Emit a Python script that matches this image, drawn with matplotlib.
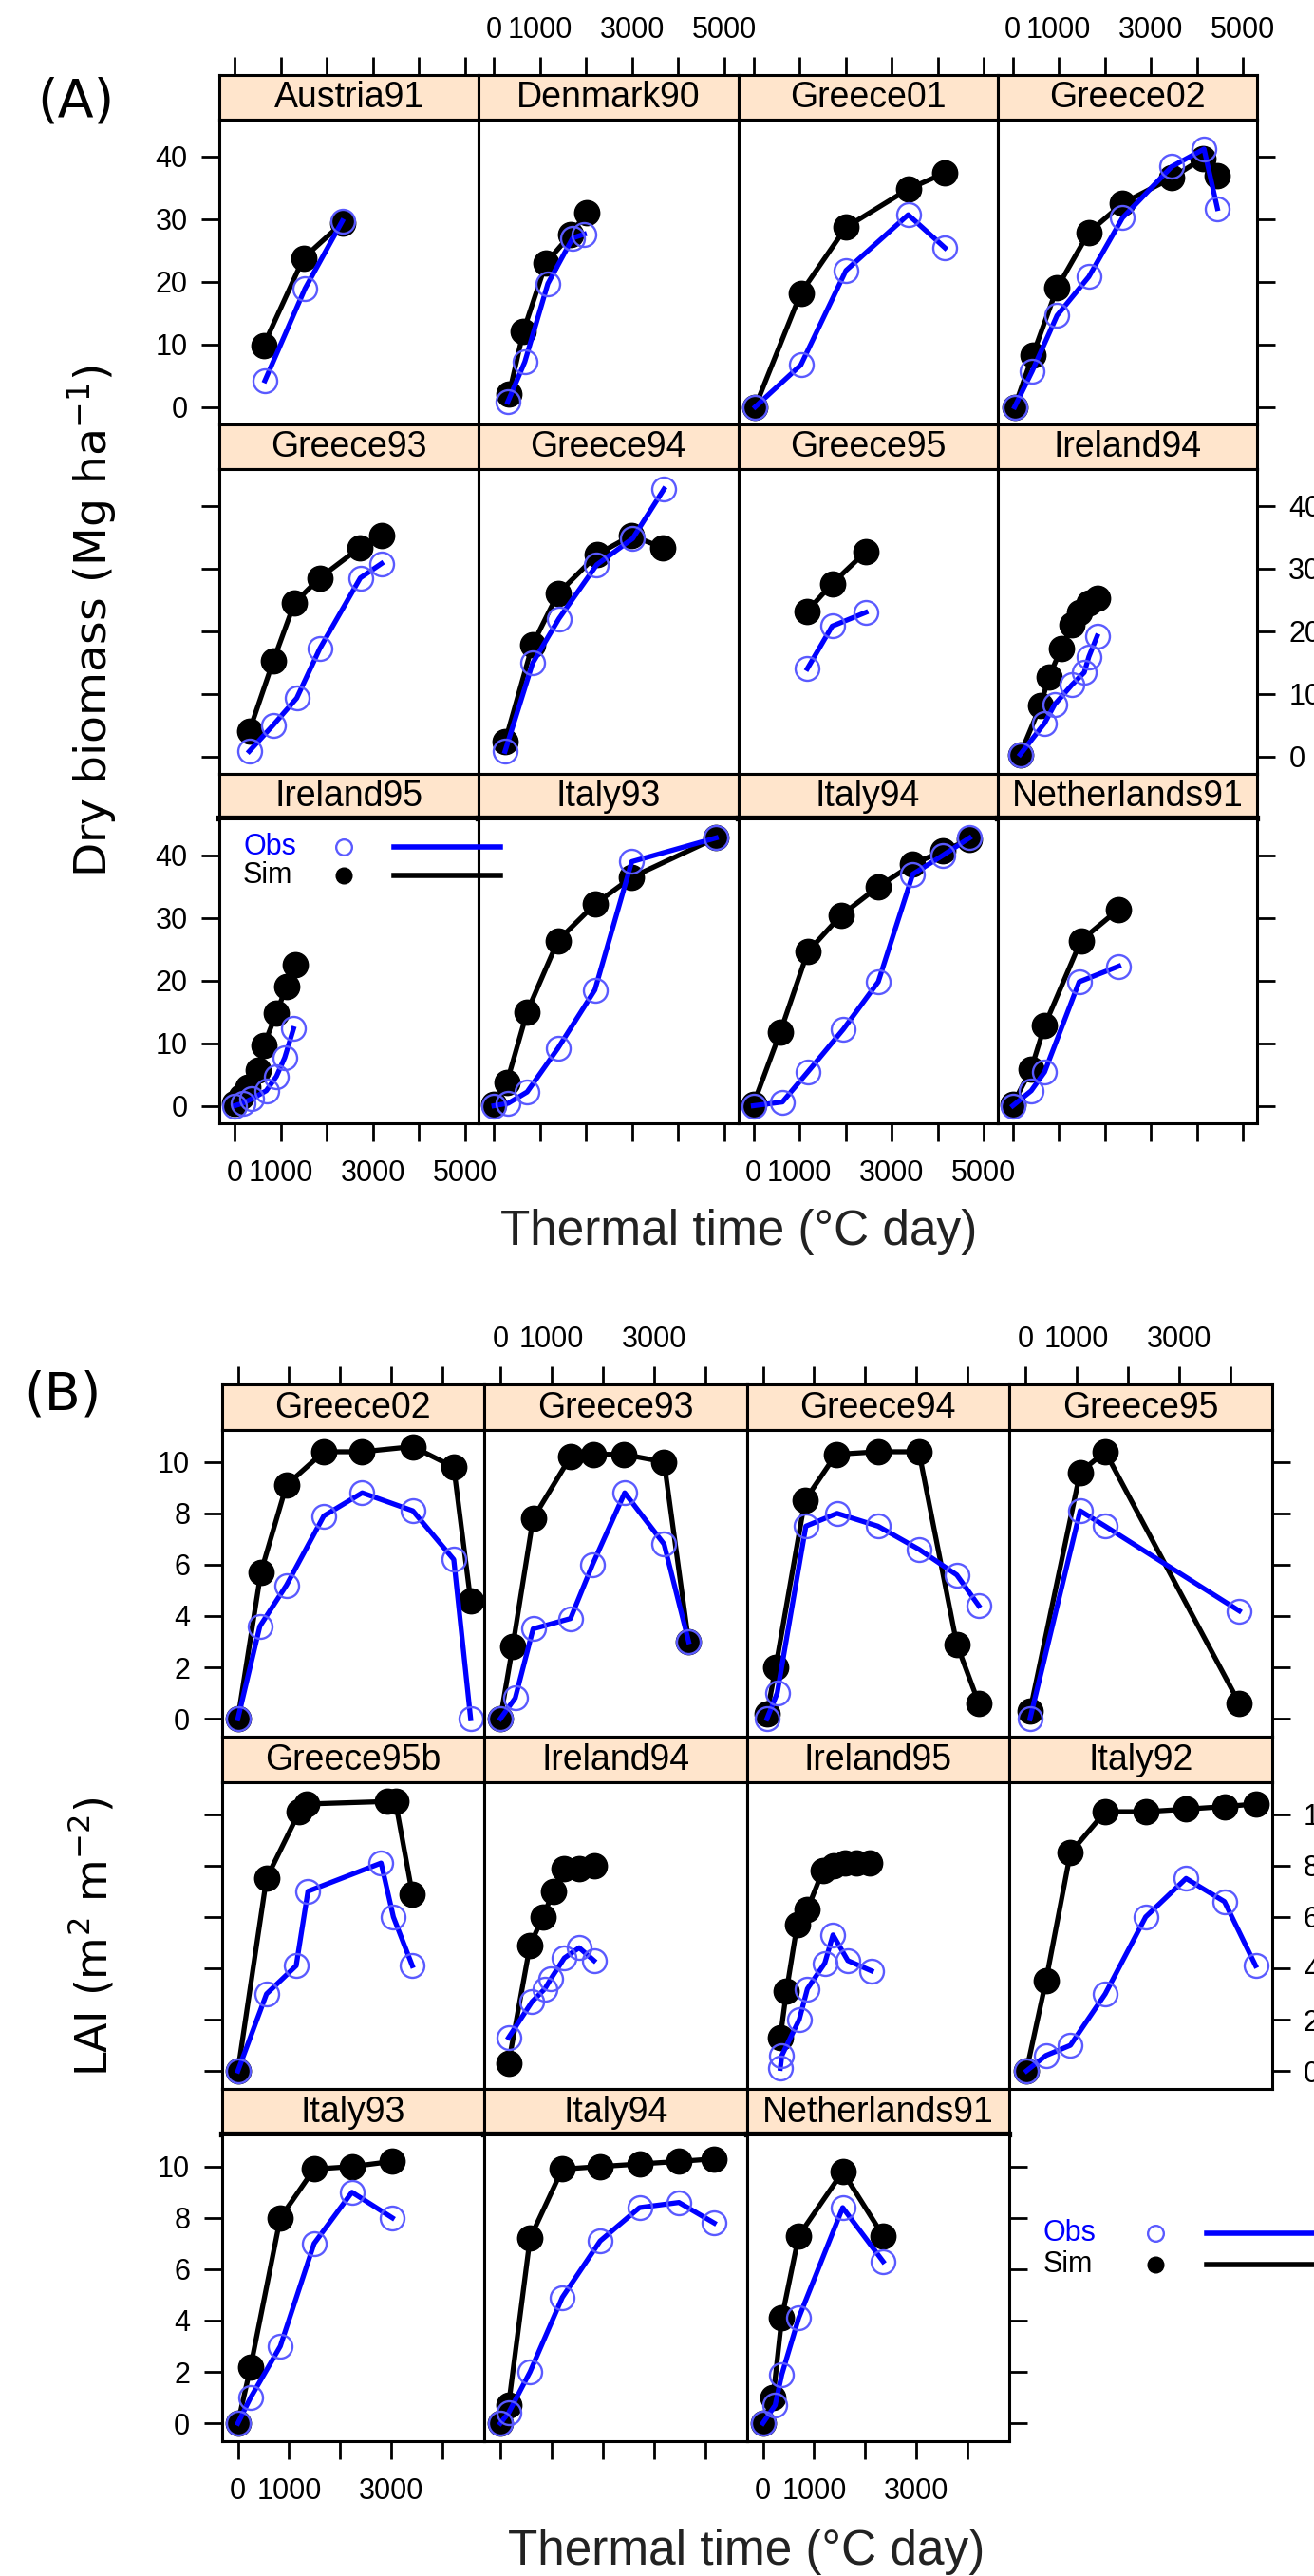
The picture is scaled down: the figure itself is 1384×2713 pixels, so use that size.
import matplotlib
matplotlib.use("Agg")
import matplotlib.pyplot as plt
from matplotlib.lines import Line2D

plt.rcParams['font.family'] = ['Liberation Sans', 'DejaVu Sans']

# ---------------- (A) dry biomass (Mg/ha) vs thermal time ----------------
biomass_sites = ['Austria91', 'Denmark90', 'Greece01', 'Greece02',
                 'Greece93', 'Greece94', 'Greece95', 'Ireland94',
                 'Ireland95', 'Italy93', 'Italy94', 'Netherlands91']
biomass_sim_x = [
    [630, 1500, 2340],
    [330, 640, 1130, 1670, 2010],
    [40, 1030, 2010, 3360, 4160],
    [40, 430, 960, 1650, 2380, 3450, 4120, 4440],
    [320, 840, 1300, 1850, 2710, 3190],
    [240, 840, 1390, 2250, 2990, 3660],
    [1170, 1710, 2440],
    [160, 600, 780, 1050, 1280, 1450, 1650, 1830],
    [0, 140, 280, 510, 640, 910, 1130, 1310],
    [0, 280, 720, 1390, 2190, 2990, 4820],
    [0, 580, 1180, 1900, 2710, 3460, 4110, 4690],
    [0, 400, 690, 1480, 2300],
]
biomass_sim_y = [
    [9.8, 23.8, 29.4],
    [2.1, 12.1, 23.0, 27.6, 31.0],
    [0.0, 18.2, 28.7, 34.8, 37.4],
    [0.0, 8.2, 19.0, 27.9, 32.5, 36.6, 39.7, 36.9],
    [4.0, 15.2, 24.5, 28.5, 33.3, 35.3],
    [2.3, 17.9, 26.0, 32.3, 35.3, 33.3],
    [23.2, 27.6, 32.7],
    [0.3, 8.1, 12.6, 17.2, 21.0, 23.0, 24.5, 25.3],
    [0.4, 1.5, 2.9, 5.7, 9.7, 14.8, 19.1, 22.6],
    [0.2, 3.7, 15.0, 26.4, 32.2, 36.5, 42.8],
    [0.2, 11.7, 24.6, 30.4, 35.0, 38.6, 40.7, 42.5],
    [0.2, 5.9, 12.8, 26.4, 31.4],
]
biomass_obs_x = [
    [660, 1530, 2340],
    [300, 670, 1170, 1710, 1960],
    [40, 1030, 2010, 3360, 4160],
    [40, 420, 960, 1650, 2380, 3450, 4150, 4440],
    [320, 840, 1350, 1850, 2730, 3190],
    [240, 840, 1410, 2230, 3010, 3690],
    [1170, 1710, 2440],
    [160, 690, 910, 1280, 1550, 1650, 1830],
    [0, 180, 370, 690, 910, 1090, 1280],
    [0, 310, 720, 1390, 2190, 2990, 4820],
    [0, 630, 1180, 1950, 2710, 3460, 4110, 4690],
    [0, 400, 690, 1440, 2300],
]
biomass_obs_y = [
    [4.2, 18.9, 29.7],
    [0.8, 7.2, 19.7, 27.0, 27.6],
    [0.0, 6.7, 21.8, 30.7, 25.4],
    [0.0, 5.7, 14.6, 20.8, 30.2, 38.4, 41.2, 31.7],
    [0.8, 5.0, 9.3, 17.2, 28.5, 30.8],
    [0.8, 14.9, 22.0, 30.6, 34.8, 42.7],
    [14.0, 20.8, 23.0],
    [0.3, 5.3, 8.3, 11.4, 13.4, 15.9, 19.2],
    [0.0, 0.4, 1.1, 2.4, 4.7, 7.7, 12.3],
    [0.0, 0.4, 2.2, 9.2, 18.5, 39.0, 42.8],
    [0.0, 0.6, 5.4, 12.2, 19.8, 37.0, 40.0, 42.8],
    [0.0, 2.4, 5.4, 19.8, 22.3],
]
biomass_xticks = [0, 1000, 2000, 3000, 4000, 5000]
biomass_xticklabels = ['0', '1000', '', '3000', '', '5000']
biomass_yticks = [0, 10, 20, 30, 40]

# ---------------- (B) LAI vs thermal time ----------------
lai_sites = ['Greece02', 'Greece93', 'Greece94', 'Greece95',
             'Greece95b', 'Ireland94', 'Ireland95', 'Italy92',
             'Italy93', 'Italy94', 'Netherlands91']
lai_sim_x = [
    [0, 450, 950, 1680, 2430, 3420, 4220, 4550],
    [0, 240, 640, 1370, 1810, 2410, 3200, 3680],
    [80, 250, 820, 1430, 2250, 3050, 3790, 4220],
    [90, 1070, 1560, 4180],
    [0, 560, 1200, 1340, 2930, 3080, 3410],
    [160, 580, 830, 1040, 1250, 1540, 1830],
    [340, 460, 670, 870, 1170, 1380, 1600, 1830, 2080],
    [20, 400, 880, 1560, 2350, 3140, 3890, 4500],
    [0, 250, 830, 1490, 2230, 3020],
    [0, 160, 580, 1210, 1950, 2720, 3490, 4180],
    [0, 200, 370, 700, 1560, 2350],
]
lai_sim_y = [
    [0.0, 5.7, 9.1, 10.4, 10.4, 10.6, 9.8, 4.6],
    [0.0, 2.8, 7.8, 10.2, 10.3, 10.3, 10.0, 3.0],
    [0.2, 2.0, 8.5, 10.3, 10.4, 10.4, 2.9, 0.6],
    [0.3, 9.6, 10.4, 0.6],
    [0.0, 7.5, 10.1, 10.4, 10.5, 10.5, 6.9],
    [0.3, 4.9, 6.0, 7.0, 7.9, 7.9, 8.0],
    [1.3, 3.1, 5.7, 6.3, 7.8, 8.0, 8.1, 8.1, 8.1],
    [0.0, 3.5, 8.5, 10.1, 10.1, 10.2, 10.3, 10.4],
    [0.0, 2.2, 8.0, 9.9, 10.0, 10.2],
    [0.0, 0.7, 7.2, 9.9, 10.0, 10.1, 10.2, 10.3],
    [0.0, 1.0, 4.1, 7.3, 9.8, 7.3],
]
lai_obs_x = [
    [0, 430, 950, 1680, 2430, 3420, 4220, 4550],
    [0, 290, 640, 1370, 1800, 2430, 3200, 3680],
    [80, 280, 840, 1450, 2250, 3050, 3790, 4220],
    [90, 1070, 1560, 4180],
    [0, 560, 1140, 1370, 2800, 3040, 3410],
    [160, 620, 870, 990, 1250, 1540, 1830],
    [340, 370, 710, 870, 1210, 1370, 1660, 2120],
    [20, 400, 880, 1560, 2350, 3140, 3890, 4500],
    [0, 250, 830, 1490, 2230, 3020],
    [0, 160, 580, 1210, 1950, 2720, 3490, 4180],
    [0, 240, 370, 700, 1560, 2350],
]
lai_obs_y = [
    [0.0, 3.6, 5.2, 7.9, 8.8, 8.1, 6.2, 0.0],
    [0.0, 0.8, 3.5, 3.9, 6.0, 8.8, 6.8, 3.0],
    [0.0, 1.0, 7.5, 8.0, 7.5, 6.6, 5.6, 4.4],
    [0.0, 8.1, 7.5, 4.2],
    [0.0, 3.0, 4.1, 7.0, 8.1, 6.0, 4.1],
    [1.3, 2.7, 3.2, 3.6, 4.4, 4.8, 4.3],
    [0.1, 0.6, 2.0, 3.2, 4.2, 5.3, 4.3, 3.9],
    [0.0, 0.6, 1.0, 3.0, 6.0, 7.5, 6.6, 4.1],
    [0.0, 1.0, 3.0, 7.0, 9.0, 8.0],
    [0.0, 0.4, 2.0, 4.9, 7.1, 8.4, 8.6, 7.8],
    [0.0, 0.7, 1.9, 4.1, 8.4, 6.3],
]
lai_xticks = [0, 1000, 2000, 3000, 4000]
lai_xticklabels = ['0', '1000', '', '3000', '']
lai_yticks = [0, 2, 4, 6, 8, 10]

W, H = 1384, 2713
STRIP_BG = '#FFE5CC'
OBS_LINE = '#0000FF'
OBS_EDGE = '#5a5aff'

fig = plt.figure(figsize=(W / 100, H / 100), dpi=100)


def px_axes(left, top, width, height):
    """Add axes using pixel coordinates measured from the top-left corner."""
    return fig.add_axes([left / W, 1 - (top + height) / H, width / W, height / H])


def fx(x):
    return x / W


def fy(y):
    return 1 - y / H


def draw_block(sites, sim_x, sim_y, obs_x, obs_y, cols_left, col_w,
               strip_tops, strip_h, plot_h, xlim, ylim,
               xticks, xticklabels, yticks):
    n = len(sites)
    nrows = (n + 3) // 4
    for i, site in enumerate(sites):
        row, col = divmod(i, 4)
        last_col = min(3, n - 1 - row * 4)
        left = cols_left[col]
        top = strip_tops[row]

        # strip
        st = px_axes(left, top, col_w, strip_h)
        st.set_facecolor(STRIP_BG)
        st.set_xlim(xlim)
        st.set_ylim(0, 1)
        st.set_yticks([])
        for s in st.spines.values():
            s.set_linewidth(2.2)
        if row == nrows - 1:
            st.spines['bottom'].set_linewidth(4.5)
        st.text(0.5, 0.48, site, transform=st.transAxes, ha='center',
                va='center', fontsize=27)
        if row == 0:
            st.set_xticks(xticks, labels=xticklabels)
            st.tick_params(axis='x', direction='out', length=14, width=2,
                           labelsize=22, pad=9, top=True, bottom=False,
                           labeltop=(col in (1, 3)), labelbottom=False)
        else:
            st.set_xticks([])

        # panel
        ax = px_axes(left, top + strip_h, col_w, plot_h)
        ax.set_xlim(xlim)
        ax.set_ylim(ylim)
        for s in ax.spines.values():
            s.set_linewidth(2.2)
        ax.set_xticks(xticks, labels=xticklabels)
        ax.set_yticks(yticks, labels=[str(v) for v in yticks])
        ax.tick_params(direction='out', length=14, width=2, labelsize=22,
                       left=False, right=False, top=False, bottom=False,
                       labelleft=False, labelright=False,
                       labeltop=False, labelbottom=False)
        ax.tick_params(axis='y', pad=10)
        ax.tick_params(axis='x', pad=13)
        if col == 0:
            ax.tick_params(axis='y', left=True, labelleft=(row != 1))
        if col == last_col:
            ax.tick_params(axis='y', right=True, labelright=(row == 1))
        if row == nrows - 1:
            ax.tick_params(axis='x', bottom=True, labelbottom=(col in (0, 2)))

        ax.plot(sim_x[i], sim_y[i], color='black', lw=3.8, marker='o',
                ms=19, mfc='black', mec='black', zorder=3)
        ax.plot(obs_x[i], obs_y[i], color=OBS_LINE, lw=3.8, zorder=4)
        ax.plot(obs_x[i], obs_y[i], ls='none', marker='o', ms=18,
                mfc='none', mec=OBS_EDGE, mew=1.7, zorder=5)


def draw_key(x_text, y_obs, y_sim, x_mark, x_line0, x_line1):
    fig.text(fx(x_text), fy(y_obs), 'Obs', color=OBS_LINE, fontsize=22,
             ha='left', va='center')
    fig.text(fx(x_text), fy(y_sim), 'Sim', color='black', fontsize=22,
             ha='left', va='center')
    fig.add_artist(Line2D([fx(x_mark)], [fy(y_obs)], transform=fig.transFigure,
                          ls='none', marker='o', ms=12, mfc='none',
                          mec=OBS_EDGE, mew=1.7))
    fig.add_artist(Line2D([fx(x_mark)], [fy(y_sim)], transform=fig.transFigure,
                          ls='none', marker='o', ms=12, mfc='black', mec='black'))
    fig.add_artist(Line2D([fx(x_line0), fx(x_line1)], [fy(y_obs), fy(y_obs)],
                          transform=fig.transFigure, color=OBS_LINE, lw=4))
    fig.add_artist(Line2D([fx(x_line0), fx(x_line1)], [fy(y_sim), fy(y_sim)],
                          transform=fig.transFigure, color='black', lw=4))


# (A)
draw_block(biomass_sites, biomass_sim_x, biomass_sim_y, biomass_obs_x, biomass_obs_y,
           cols_left=[231, 504.25, 777.5, 1050.75], col_w=273.25,
           strip_tops=[79, 447, 815], strip_h=47, plot_h=321,
           xlim=(-330, 5300), ylim=(-2.8, 45.9),
           xticks=biomass_xticks, xticklabels=biomass_xticklabels,
           yticks=biomass_yticks)
fig.text(fx(80), fy(108), '(A)', family='DejaVu Sans', fontsize=40,
         ha='center', va='center')
fig.text(fx(97), fy(654), 'Dry biomass (Mg ha$^{-1}$)', family='DejaVu Sans',
         fontsize=34, rotation=90, ha='center', va='center')
fig.text(fx(778), fy(1298), 'Thermal time (°C day)', fontsize=37,
         color='#222222', ha='center', va='center')
draw_key(256, 892, 922, 362, 415, 527)

# (B)
draw_block(lai_sites, lai_sim_x, lai_sim_y, lai_obs_x, lai_obs_y,
           cols_left=[233.5, 510, 786.5, 1063], col_w=276.5,
           strip_tops=[1458, 1829, 2200], strip_h=48, plot_h=323,
           xlim=(-316, 4815), ylim=(-0.7, 11.25),
           xticks=lai_xticks, xticklabels=lai_xticklabels,
           yticks=lai_yticks)
fig.text(fx(66), fy(1470), '(B)', family='DejaVu Sans', fontsize=40,
         ha='center', va='center')
fig.text(fx(97), fy(2040), 'LAI (m$^{2}$ m$^{-2}$)', family='DejaVu Sans',
         fontsize=33, rotation=90, ha='center', va='center')
fig.text(fx(786), fy(2688), 'Thermal time (°C day)', fontsize=37,
         color='#222222', ha='center', va='center')
draw_key(1099, 2352, 2385, 1217, 1271, 1400)

fig.savefig('out.png', dpi=100)
